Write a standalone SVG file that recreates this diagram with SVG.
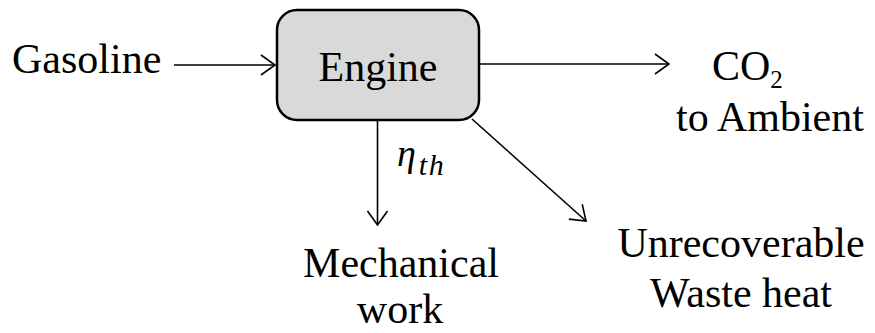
<svg xmlns="http://www.w3.org/2000/svg" width="875" height="333" viewBox="0 0 875 333">
  <style>
    text { font-family: "Liberation Serif", "Times New Roman", serif; fill: #000; }
    .lbl { font-size: 42px; }
    .math { font-style: italic; }
    .box { fill: #d9d9d9; stroke: #000; stroke-width: 2.5; }
    .conn { stroke: #000; stroke-width: 1.6; fill: none; }
  </style>
  <defs>
    <!-- open chevron arrowhead shared by all connectors -->
    <marker id="open" viewBox="0 0 16 22" refX="15" refY="11" markerWidth="16" markerHeight="22" markerUnits="userSpaceOnUse" orient="auto">
      <path d="M1,1 L15,11 L1,21" fill="none" stroke="#000" stroke-width="1.6"/>
    </marker>
  </defs>

  <rect width="875" height="333" fill="#fff"/>

  <g id="connectors">
    <line class="conn" x1="174" y1="65" x2="275" y2="65" marker-end="url(#open)"/>
    <line class="conn" x1="479" y1="64" x2="669" y2="64" marker-end="url(#open)"/>
    <line class="conn" x1="377.5" y1="120" x2="377.5" y2="225" marker-end="url(#open)"/>
    <line class="conn" x1="472" y1="119" x2="586" y2="221" marker-end="url(#open)"/>
  </g>

  <g id="gasoline">
    <text class="lbl" x="12" y="73">Gasoline</text>
  </g>

  <g id="engine">
    <rect class="box" x="277" y="10" width="202" height="110" rx="20" ry="20"/>
    <text class="lbl" x="378" y="81" text-anchor="middle">Engine</text>
  </g>

  <g id="co2">
    <text class="lbl" x="712" y="80">CO<tspan font-size="25" dy="8">2</tspan></text>
    <text class="lbl" x="770" y="131" text-anchor="middle">to Ambient</text>
  </g>

  <g id="efficiency">
    <text class="math" x="397" y="166" font-size="38">η<tspan font-size="30" dy="9" letter-spacing="1.5" dx="3">th</tspan></text>
  </g>

  <g id="work">
    <text class="lbl" x="401" y="277" text-anchor="middle">Mechanical</text>
    <text class="lbl" x="400" y="323" text-anchor="middle">work</text>
  </g>

  <g id="waste">
    <text class="lbl" x="741" y="257" text-anchor="middle">Unrecoverable</text>
    <text class="lbl" x="741" y="307" text-anchor="middle">Waste heat</text>
  </g>
</svg>
